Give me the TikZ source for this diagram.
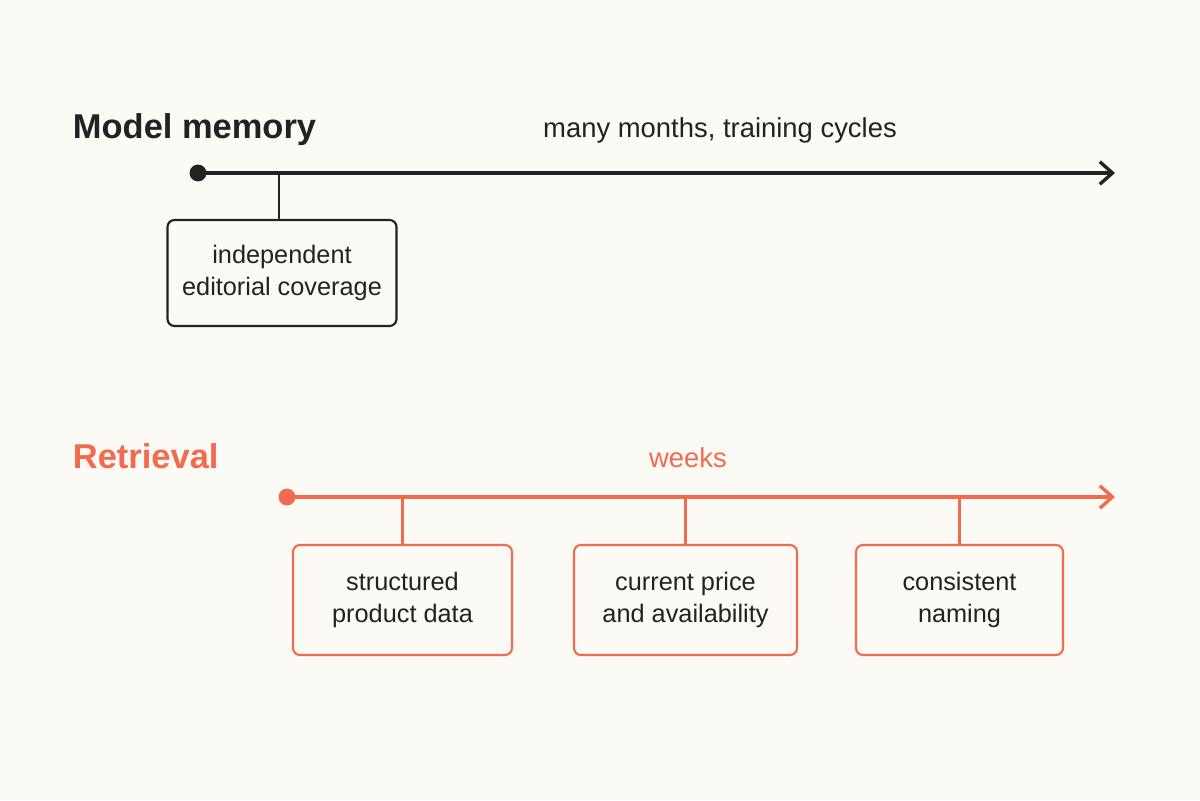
\documentclass[tikz,border=0pt]{standalone}
\usepackage{fontspec}
\setmainfont{Liberation Sans}
\usetikzlibrary{arrows.meta}
\definecolor{bg}{HTML}{FCFAF5}
\definecolor{ink}{HTML}{222222}
\definecolor{org}{HTML}{F26B50}
\begin{document}
\begin{tikzpicture}[x=0.025cm,y=-0.025cm,
  box/.style={draw=#1,line width=1.5pt,rounded corners=5pt,align=center,font=\fontsize{18}{23}\selectfont,text=ink,inner sep=0pt},
  axis/.style={draw=#1,line width=2.4pt,-{Straight Barb[length=9pt,width=16pt,line width=2.4pt]}},
  tick/.style={draw=#1,line width=1.5pt},
  lab/.style={font=\fontsize{19.5}{22}\selectfont}]
\fill[bg] (0,0) rectangle (1200,800);
\useasboundingbox (0,0) rectangle (1200,800);
% model memory
\node[anchor=west,font=\bfseries\fontsize{24.5}{28}\selectfont,text=ink] (t1) at (68,130) {Model memory};
\node[lab,text=ink] (l1) at (720,130) {many months, training cycles};
\coordinate (a0) at (198,173);
\coordinate (a1) at (1115,173);
\fill[ink] (a0) circle (6pt);
\draw[axis=ink] (a0) -- (a1);
\node[box=ink,minimum width=229*0.025cm,minimum height=106*0.025cm] (b1) at (282,273) {independent\\editorial coverage};
\draw[tick=ink] (b1.north -| 279,0) -- (279,173);
% retrieval
\node[anchor=west,font=\bfseries\fontsize{24.5}{28}\selectfont,text=org] (t2) at (68,456) {Retrieval};
\node[lab,text=org] (l2) at (688,458) {weeks};
\coordinate (c0) at (287,497);
\coordinate (c1) at (1115,497);
\fill[org] (c0) circle (6pt);
\draw[axis=org] (c0) -- (c1);
\node[box=org,minimum width=219*0.025cm,minimum height=110*0.025cm] (b2) at (402.5,600) {structured\\product data};
\node[box=org,minimum width=223*0.025cm,minimum height=110*0.025cm] (b3) at (685.5,600) {current price\\and availability};
\node[box=org,minimum width=207*0.025cm,minimum height=110*0.025cm] (b4) at (959.5,600) {consistent\\naming};
\draw[tick=org] (b2.north) -- (b2.north |- c0);
\draw[tick=org] (b3.north) -- (b3.north |- c0);
\draw[tick=org] (b4.north) -- (b4.north |- c0);
\end{tikzpicture}
\end{document}
